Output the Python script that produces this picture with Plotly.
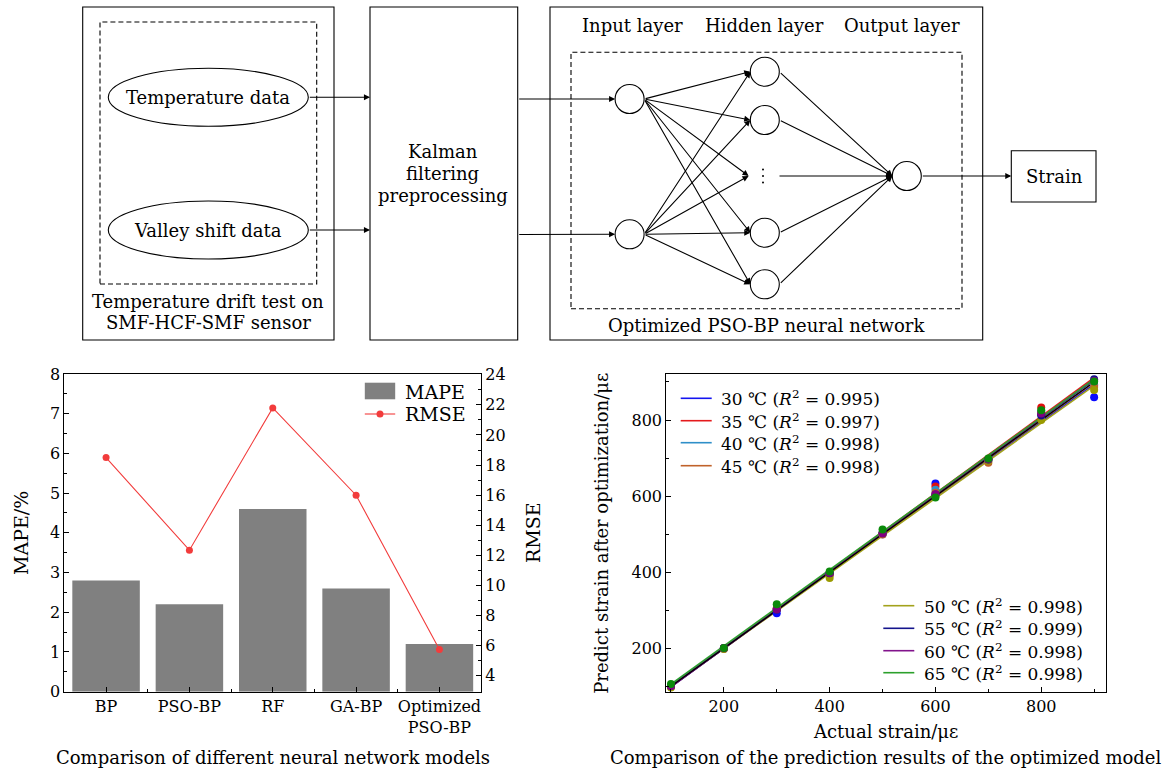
import numpy as np
import plotly.graph_objects as go

W, H = 1172, 771
FONT = "DejaVu Serif"

# ---- model comparison (bottom left) ----
models = ["BP", "PSO-BP", "RF", "GA-BP", "Optimized<br>PSO-BP"]
mape = [2.8, 2.2, 4.6, 2.6, 1.2]
rmse = [18.5, 12.35, 21.8, 16.0, 5.75]

# ---- prediction results at several temperatures (bottom right) ----
actual_strain = [100, 200, 300, 400, 500, 600, 700, 800, 900]
temps = [30, 35, 40, 45, 50, 55, 60, 65]
r2_text = ["0.995", "0.997", "0.998", "0.998", "0.998", "0.999", "0.998", "0.998"]
pred_30 = [100, 200, 292, 395, 500, 633, 695, 815, 860]
pred_35 = [100, 201, 303, 396, 502, 625, 697, 833, 893]
pred_40 = [101, 199, 302, 395, 501, 617, 694, 822, 891]
pred_45 = [98, 199, 304, 392, 499, 609, 688, 818, 887]
pred_50 = [97, 198, 305, 385, 502, 600, 693, 800, 879]
pred_55 = [101, 201, 301, 397, 503, 604, 696, 812, 907]
pred_60 = [100, 200, 302, 398, 502, 605, 697, 817, 903]
pred_65 = [106, 201, 316, 402, 512, 596, 699, 826, 901]
predictions = [pred_30, pred_35, pred_40, pred_45, pred_50, pred_55, pred_60, pred_65]
temp_colors = ["#1414f0", "#e41a1c", "#2f8fc8", "#c0622a", "#a3a21c", "#14148c", "#82148c", "#2ca02c"]
point_colors = ["#0a0aff", "#e01010", "#2f8fc8", "#c0622a", "#9a9a00", "#10108a", "#800080", "#0a8a0a"]


def px(x):
    return x / W


def py(y):
    return 1 - y / H


fig = go.Figure()

# bars + RMSE line
fig.add_trace(go.Bar(x=list(range(len(models))), y=mape, marker=dict(color="#808080", line=dict(width=0)),
                     xaxis="x", yaxis="y", showlegend=False))
fig.add_trace(go.Scatter(x=list(range(len(models))), y=rmse, mode="lines+markers",
                         line=dict(color="#f23c3c", width=1.1), marker=dict(color="#f23c3c", size=7),
                         xaxis="x", yaxis="y2", showlegend=False))

# fitted lines per temperature
xs = np.array(actual_strain, dtype=float)
for i, (t, pred) in enumerate(zip(temps, predictions)):
    k, b = np.polyfit(xs, np.array(pred, dtype=float), 1)
    fig.add_trace(go.Scatter(
        x=[xs[0], xs[-1]], y=[k * xs[0] + b, k * xs[-1] + b], mode="lines",
        line=dict(color=temp_colors[i], width=1.6), showlegend=False,
        xaxis="x3", yaxis="y3"))

# ideal reference line
fig.add_trace(go.Scatter(x=actual_strain, y=actual_strain, mode="lines",
                         line=dict(color="black", width=1.4), showlegend=False,
                         xaxis="x3", yaxis="y3"))

# measured points
for i, pred in enumerate(predictions):
    fig.add_trace(go.Scatter(x=actual_strain, y=pred, mode="markers",
                             marker=dict(color=point_colors[i], size=8),
                             showlegend=False, xaxis="x3", yaxis="y3"))

shapes = []
annotations = []
LW = 1.1


def rect(x0, y0, x1, y1, dash="solid", fill="rgba(0,0,0,0)", width=LW, color="black"):
    shapes.append(dict(type="rect", xref="paper", yref="paper",
                       x0=px(x0), x1=px(x1), y0=py(y1), y1=py(y0),
                       line=dict(color=color, width=width, dash=dash), fillcolor=fill, layer="above"))


def ellipse(cx, cy, rx, ry, fill="rgba(0,0,0,0)", width=LW, color="black"):
    shapes.append(dict(type="circle", xref="paper", yref="paper",
                       x0=px(cx - rx), x1=px(cx + rx), y0=py(cy + ry), y1=py(cy - ry),
                       line=dict(color=color, width=width), fillcolor=fill, layer="above"))


def line(x0, y0, x1, y1, color="black", width=LW):
    shapes.append(dict(type="line", xref="paper", yref="paper",
                       x0=px(x0), x1=px(x1), y0=py(y0), y1=py(y1),
                       line=dict(color=color, width=width), layer="above"))


def arrow(x0, y0, x1, y1):
    annotations.append(dict(x=px(x1), y=py(y1), xref="paper", yref="paper",
                            ax=x0 - x1, ay=y0 - y1, axref="pixel", ayref="pixel",
                            showarrow=True, arrowhead=2, arrowsize=1.1, arrowwidth=LW,
                            arrowcolor="black", text="", standoff=0, startstandoff=0))


def label(x, y, text, size=18, angle=0, xanchor="center"):
    annotations.append(dict(x=px(x), y=py(y), xref="paper", yref="paper", text=text,
                            showarrow=False, xanchor=xanchor, yanchor="middle", textangle=angle,
                            font=dict(family=FONT, size=size, color="black")))


# ---- data acquisition block ----
rect(82.7, 7, 334, 340)
rect(100, 22, 316.7, 284, dash="5px,3px")
ellipse(208.3, 97.3, 100, 29)
ellipse(208.3, 230, 100, 29)
label(208.3, 97.3, "Temperature data")
label(208.3, 230, "Valley shift data")
label(208.3, 301.7, "Temperature drift test on")
label(208.3, 322.7, "SMF-HCF-SMF sensor")
arrow(308.3, 97.3, 370, 97.3)
arrow(308.3, 230, 370, 230)

# ---- Kalman block ----
rect(370, 7, 517.7, 340)
label(442.7, 152, "Kalman")
label(442.7, 174, "filtering")
label(442.7, 195.7, "preprocessing")

# ---- network block ----
rect(550, 7, 982.7, 340)
rect(571, 52.3, 962, 308.7, dash="5px,3px")
label(632, 26, "Input layer")
label(764.8, 26, "Hidden layer")
label(902, 26, "Output layer")
label(766, 325, "Optimized PSO-BP neural network")

R = 14.5
in_x = 629.6
in_ys = [99, 234.3]
hid_x = 764.8
hid_ys = [71.7, 120, 232.7, 284.3]
dots_y = 176
out_x, out_y = 906.8, 176

for y in in_ys:
    ellipse(in_x, y, R, R)
for y in hid_ys:
    ellipse(hid_x, y, R, R)
ellipse(out_x, out_y, R, R)
# vertical ellipsis standing for the remaining hidden neurons
for dy in (-6.5, 0, 6.5):
    ellipse(763, dots_y + dy, 1.0, 1.0, fill="black", width=0)

arrow(517.7, 99, in_x - R, 99)
arrow(517.7, 234.5, in_x - R, 234.3)

for y0 in in_ys:
    for y1 in hid_ys:
        arrow(in_x + R, y0, hid_x - R, y1)
    arrow(in_x + R, y0, 748.6, dots_y)
for y in hid_ys:
    arrow(hid_x + R, y, out_x - R, out_y)
arrow(778, dots_y, out_x - R, out_y)

rect(1011.3, 150.7, 1096, 202)
label(1054.5, 176.4, "Strain")
arrow(out_x + R, out_y, 1011.3, out_y)

# ---- legend for the model comparison ----
rect(364.8, 382.7, 395.2, 399.3, fill="#808080", width=0, color="#808080")
label(403, 391.7, "MAPE", size=19, xanchor="left")
line(364.8, 414, 395.2, 414, color="#f23c3c", width=1.1)
ellipse(380, 414, 3.5, 3.5, fill="#f23c3c", width=0, color="#f23c3c")
label(403, 414, "RMSE", size=19, xanchor="left")

# ---- legends for the temperature series ----
legend_rows = [398.3, 420.7, 442.7, 465.7, 605.7, 628.3, 650.7, 672.7]
for i, t in enumerate(temps):
    gx = 680.7 if i < 4 else 883.3
    ry = legend_rows[i]
    line(gx, ry, gx + 31, ry, color=temp_colors[i], width=1.6)
    label(gx + 38.6, ry, f"{t} \u2103 (<i>R</i><sup>2</sup> = {r2_text[i]})", size=17, xanchor="left")

# ---- axis titles and captions ----
label(21, 533, "MAPE/%", size=19, angle=-90)
label(533, 533, "RMSE", size=19, angle=-90)
label(273, 757, "Comparison of different neural network models")
label(601.5, 533.3, "Predict strain after optimization/\u03bc\u03b5", angle=-90)
label(885.5, 731.7, "Actual strain/\u03bc\u03b5")
label(885.3, 757, "Comparison of the prediction results of the optimized model")

tickfont = dict(family=FONT, size=16, color="black")
axis_common = dict(showline=True, linecolor="black", linewidth=1, showgrid=False, zeroline=False,
                   automargin=False, ticks="inside", ticklen=5, tickcolor="black", tickfont=tickfont)

fig.update_layout(
    width=W, height=H, autosize=False,
    margin=dict(l=0, r=0, t=0, b=0, autoexpand=False),
    paper_bgcolor="white", plot_bgcolor="white",
    bargap=0.19, showlegend=False,
    shapes=shapes, annotations=annotations,
    xaxis=dict(domain=[px(64.4), px(481.1)], anchor="y", range=[-0.5, 4.5],
               tickmode="array", tickvals=list(range(len(models))), ticktext=models, mirror=True,
               minor=dict(tickmode="array", tickvals=[0.5, 1.5, 2.5, 3.5], ticks="inside", ticklen=3,
                          tickcolor="black"),
               **axis_common),
    yaxis=dict(domain=[py(691.7), py(374)], anchor="x", range=[0, 8], dtick=1, tick0=0,
               minor=dict(dtick=0.5, ticks="inside", ticklen=3, tickcolor="black"),
               **axis_common),
    yaxis2=dict(domain=[py(691.7), py(374)], overlaying="y", side="right", anchor="x",
                range=[2.95, 24.05], dtick=2, tick0=0,
                minor=dict(dtick=1, ticks="inside", ticklen=3, tickcolor="black"),
                **axis_common),
    xaxis3=dict(domain=[px(666.2), px(1105.5)], anchor="y3", range=[91, 921.5], dtick=200, tick0=0,
                mirror=True, minor=dict(dtick=100, ticks="inside", ticklen=3, tickcolor="black"),
                **axis_common),
    yaxis3=dict(domain=[py(692), py(374)], anchor="x3", range=[85, 921], dtick=200, tick0=0,
                mirror=True, minor=dict(dtick=100, ticks="inside", ticklen=3, tickcolor="black"),
                **axis_common),
)

fig.write_html("out.html")
